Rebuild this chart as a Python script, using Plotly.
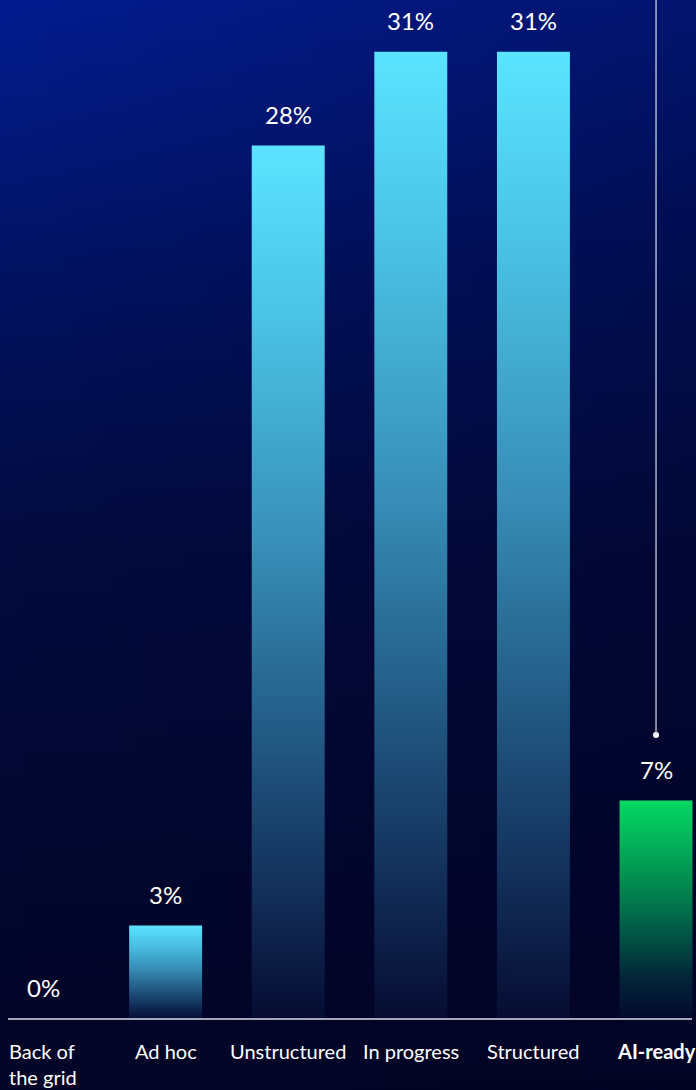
import base64
import plotly.graph_objects as go

# ---- data ----
categories = ["Back of<br>the grid", "Ad hoc", "Unstructured", "In progress", "Structured", "AI-ready"]
values = [0, 3, 28, 31, 31, 7]
value_labels = ["0%", "3%", "28%", "31%", "31%", "7%"]
highlight = [False, False, False, False, False, True]

# ---- style ----
W, H = 696, 1090
FONT = "Lato, 'Noto Sans', sans-serif"
BAR_W = 0.595
X_RANGE = [-0.3507, 5.326]
Y_RANGE = [-2.276, 32.66]

blue_scale = [[0.0, "#060c32"], [0.15, "#12305a"], [0.35, "#24608a"],
              [0.55, "#3890b9"], [0.8, "#4ac2e4"], [1.0, "#5ae4ff"]]
green_scale = [[0.0, "#03082c"], [0.2, "#02283a"], [0.5, "#01704a"],
               [0.8, "#02b058"], [1.0, "#04d862"]]

bg_svg = f"""<svg xmlns='http://www.w3.org/2000/svg' width='{W}' height='{H}' viewBox='0 0 {W} {H}' preserveAspectRatio='none'>
<defs>
<linearGradient id='v' x1='0' y1='0' x2='0' y2='1'>
<stop offset='0' stop-color='#021c90'/>
<stop offset='0.25' stop-color='#011262'/>
<stop offset='0.5' stop-color='#020a3e'/>
<stop offset='0.8' stop-color='#02062e'/>
<stop offset='1' stop-color='#020526'/>
</linearGradient>
<linearGradient id='h' x1='0' y1='0' x2='1' y2='0'>
<stop offset='0' stop-color='#000020' stop-opacity='0'/>
<stop offset='1' stop-color='#000020' stop-opacity='0.3'/>
</linearGradient>
</defs>
<rect width='{W}' height='{H}' fill='url(#v)'/>
<rect width='{W}' height='{H}' fill='url(#h)'/>
</svg>"""
bg_uri = "data:image/svg+xml;base64," + base64.b64encode(bg_svg.encode()).decode()

fig = go.Figure()

for i, (v, hl) in enumerate(zip(values, highlight)):
    if v <= 0:
        continue
    x0, x1 = i - BAR_W / 2, i + BAR_W / 2
    fig.add_trace(go.Scatter(
        x=[x0, x1, x1, x0, x0], y=[0, 0, v, v, 0],
        mode="lines", fill="toself", line=dict(width=0),
        fillgradient=dict(type="vertical", colorscale=green_scale if hl else blue_scale,
                          start=0, stop=v),
        hoverinfo="skip", showlegend=False,
    ))

# value labels
for i, (v, lab) in enumerate(zip(values, value_labels)):
    fig.add_annotation(x=i, y=v, xref="x", yref="y", text=lab, showarrow=False,
                       yanchor="middle", yshift=31,
                       font=dict(family=FONT, size=24, color="#ffffff"))

# category labels
for i, (c, hl) in enumerate(zip(categories, highlight)):
    fig.add_annotation(x=i, y=0, xref="x", yref="y",
                       text=f"<b>{c}</b>" if hl else c, showarrow=False,
                       xanchor="center", yanchor="top", yshift=-18, align="left",
                       font=dict(family=FONT, size=20, color="#ffffff"))

# baseline
fig.add_shape(type="line", xref="paper", yref="y", x0=8 / W, x1=692 / W, y0=0, y1=0,
              line=dict(color="#d8dcec", width=1.5))

# callout line for the highlighted bar
hi = highlight.index(True)
dot_y = values[hi] + 2.1
fig.add_shape(type="line", xref="x", yref="y", x0=hi, x1=hi, y0=dot_y, y1=Y_RANGE[1],
              line=dict(color="#d8dcec", width=1.2))
fig.add_trace(go.Scatter(x=[hi], y=[dot_y], mode="markers",
                         marker=dict(color="#ffffff", size=6),
                         hoverinfo="skip", showlegend=False))

fig.add_layout_image(dict(source=bg_uri, xref="paper", yref="paper", x=0, y=1,
                          sizex=1, sizey=1, sizing="stretch", layer="below"))

fig.update_layout(
    width=W, height=H, margin=dict(l=0, r=0, t=0, b=0),
    paper_bgcolor="#020630", plot_bgcolor="rgba(0,0,0,0)",
    xaxis=dict(range=X_RANGE, visible=False, fixedrange=True),
    yaxis=dict(range=Y_RANGE, visible=False, fixedrange=True),
    showlegend=False,
)

fig.write_html("out.html", config={"displayModeBar": False},
               post_script="document.body.style.margin='0';document.body.style.overflow='hidden';")
